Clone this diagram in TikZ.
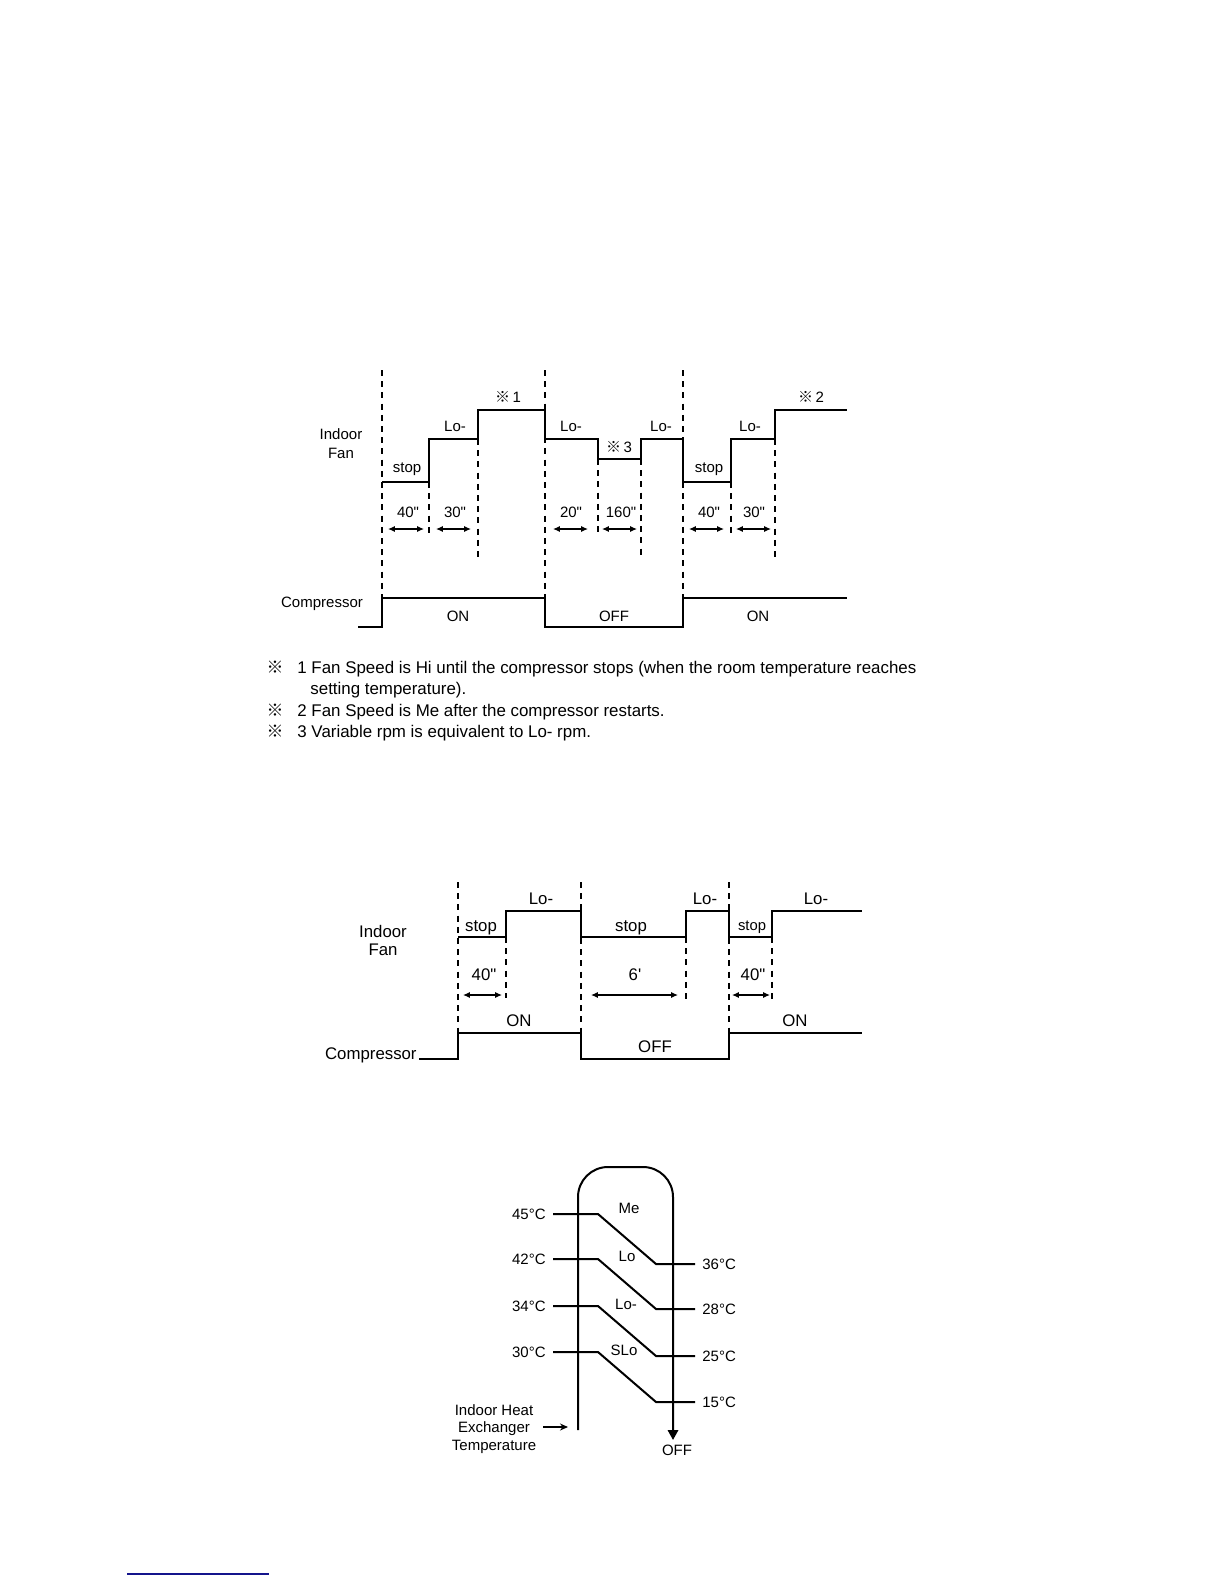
\documentclass[tikz,border=0pt]{standalone}
\usepackage{fontspec}
\usetikzlibrary{arrows.meta}
\newfontfamily\labfont{Liberation Sans}
\newfontfamily\cjkfont{Noto Sans CJK JP}
\newcommand\komemark{{\cjkfont ※}}
\definecolor{navyline}{RGB}{20,20,140}
\tikzset{
  wave/.style={line width=1.1pt, line join=miter},
  guide/.style={line width=0.6pt, dash pattern=on 3pt off 2.6pt},
  dur/.style={line width=0.6pt, {Latex[length=3.4pt,width=3pt]}-{Latex[length=3.4pt,width=3pt]}},
  lblA/.style={font=\labfont\fontsize{7.5}{9}\selectfont, inner sep=0pt, text height=5.4pt, text depth=0pt},
  lblB/.style={font=\labfont\fontsize{8.4}{10}\selectfont, inner sep=0pt, text height=6pt, text depth=0pt},
  lblBs/.style={font=\labfont\fontsize{7.4}{9}\selectfont, inner sep=0pt, text height=5.3pt, text depth=0pt},
  lblC/.style={font=\labfont\fontsize{7.5}{9}\selectfont, inner sep=0pt, text height=5.4pt, text depth=0pt},
  note/.style={font=\labfont\fontsize{8.45}{10}\selectfont, inner sep=0pt, anchor=base west},
  notemark/.style={font=\labfont\fontsize{8.45}{10}\selectfont, inner sep=0pt, anchor=base},
}
\begin{document}
\begin{tikzpicture}[x=0.5pt,y=-0.5pt]
\useasboundingbox (0,0) rectangle (1224,1584);

% ================= TOP DIAGRAM =================
\foreach \gx in {382,545,683}{
  \draw[guide] (\gx,370) -- (\gx,598);
}
\draw[guide] (429,482) -- (429,533);
\draw[guide] (478,439) -- (478,560);
\draw[guide] (598,459) -- (598,533);
\draw[guide] (641,459) -- (641,557);
\draw[guide] (731,482) -- (731,533);
\draw[guide] (775,439) -- (775,557);
\draw[wave] (382,482) -- (429,482) -- (429,439) -- (478,439) -- (478,410) -- (545,410)
  -- (545,439) -- (598,439) -- (598,459) -- (641,459) -- (641,439) -- (683,439)
  -- (683,482) -- (731,482) -- (731,439) -- (775,439) -- (775,410) -- (847,410);
\draw[wave] (358,627) -- (382,627) -- (382,598) -- (545,598) -- (545,627) -- (683,627)
  -- (683,598) -- (847,598);
\node[lblA] (t-in1) at (341,434) {Indoor};
\node[lblA] (t-in2) at (341,453) {Fan};
\node[lblA] (t-comp) at (322,602) {Compressor};
\node[lblA] (t-stop1) at (407,467) {stop};
\node[lblA] (t-lo1) at (455,426) {Lo-};
\node[lblA] (t-k1) at (508,397) {\komemark\,1};
\node[lblA] (t-lo2) at (571,426) {Lo-};
\node[lblA] (t-k3) at (619,447) {\komemark\,3};
\node[lblA] (t-lo3) at (661,426) {Lo-};
\node[lblA] (t-stop2) at (709,467) {stop};
\node[lblA] (t-lo4) at (750,426) {Lo-};
\node[lblA] (t-k2) at (811,397) {\komemark\,2};
\node[lblA] (t-d1) at (408,512) {40"};
\node[lblA] (t-d2) at (455,512) {30"};
\node[lblA] (t-d3) at (571,512) {20"};
\node[lblA] (t-d4) at (621,512) {160"};
\node[lblA] (t-d5) at (709,512) {40"};
\node[lblA] (t-d6) at (754,512) {30"};
\node[lblA] (t-on1) at (458,616) {ON};
\node[lblA] (t-off) at (614,616) {OFF};
\node[lblA] (t-on2) at (758,616) {ON};
\coordinate (ta1) at (388,529); \coordinate (tb1) at (424,529);
\coordinate (ta2) at (436,529); \coordinate (tb2) at (471,529);
\coordinate (ta3) at (553,529); \coordinate (tb3) at (588,529);
\coordinate (ta4) at (602,529); \coordinate (tb4) at (637,529);
\coordinate (ta5) at (689,529); \coordinate (tb5) at (724,529);
\coordinate (ta6) at (736,529); \coordinate (tb6) at (771,529);
\foreach \i in {1,...,6}{ \draw[dur] (ta\i) -- (tb\i); }

% ================= NOTES =================
\node[notemark] (n-k1) at (275,673) {\komemark};
\node[note] (n-1) at (297,673) {1 Fan Speed is Hi until the compressor stops (when the room temperature reaches};
\node[note] (n-1b) at (310,694) {setting temperature).};
\node[notemark] (n-k2) at (275,716) {\komemark};
\node[note] (n-2) at (297,716) {2 Fan Speed is Me after the compressor restarts.};
\node[notemark] (n-k3) at (275,737) {\komemark};
\node[note] (n-3) at (297,737) {3 Variable rpm is equivalent to Lo- rpm.};

% ================= MIDDLE DIAGRAM =================
\foreach \gx in {458,581,729}{
  \draw[guide] (\gx,882) -- (\gx,1033);
}
\draw[guide] (506,937) -- (506,998);
\draw[guide] (686,937) -- (686,1000);
\draw[guide] (772,937) -- (772,1000);
\draw[wave] (458,937) -- (506,937) -- (506,911) -- (581,911) -- (581,937) -- (686,937)
  -- (686,911) -- (729,911) -- (729,937) -- (772,937) -- (772,911) -- (862,911);
\draw[wave] (419,1059) -- (458,1059) -- (458,1033) -- (581,1033) -- (581,1059) -- (729,1059)
  -- (729,1033) -- (862,1033);
\node[lblB] (m-in1) at (383,931) {Indoor};
\node[lblB] (m-in2) at (383,949) {Fan};
\node[lblB,anchor=east] (m-comp) at (417,1053) {Compressor};
\node[lblB] (m-stop1) at (481,925) {stop};
\node[lblB] (m-lo1) at (541,898) {Lo-};
\node[lblB] (m-stop2) at (631,925) {stop};
\node[lblB] (m-lo2) at (705,898) {Lo-};
\node[lblBs] (m-stop3) at (752,925) {stop};
\node[lblB] (m-lo3) at (816,898) {Lo-};
\node[lblB] (m-d1) at (484,974) {40"};
\node[lblB] (m-d2) at (635,974) {6'};
\node[lblB] (m-d3) at (753,974) {40"};
\node[lblB] (m-on1) at (519,1020) {ON};
\node[lblB] (m-off) at (655,1046) {OFF};
\node[lblB] (m-on2) at (795,1020) {ON};
\coordinate (ma1) at (463,995); \coordinate (mb1) at (502,995);
\coordinate (ma2) at (591,995); \coordinate (mb2) at (678,995);
\coordinate (ma3) at (732,995); \coordinate (mb3) at (770,995);
\foreach \i in {1,2,3}{ \draw[dur] (ma\i) -- (mb\i); }

% ================= BOTTOM DIAGRAM =================
\draw[line width=1pt, rounded corners=15pt, -{Triangle[length=5pt,width=5.2pt]}]
  (578,1430) -- (578,1167) -- (673,1167) -- (673,1440);
\foreach \yl/\yr in {1214/1264,1259/1309,1306/1356,1352/1402}{
  \draw[line width=1pt] (553,\yl) -- (598,\yl) -- (656,\yr) -- (695,\yr);
}
\node[lblC,anchor=east] (b-45) at (546,1214) {45°C};
\node[lblC,anchor=east] (b-42) at (546,1259) {42°C};
\node[lblC,anchor=east] (b-34) at (546,1306) {34°C};
\node[lblC,anchor=east] (b-30) at (546,1352) {30°C};
\node[lblC,anchor=west] (b-36) at (702,1264) {36°C};
\node[lblC,anchor=west] (b-28) at (702,1309) {28°C};
\node[lblC,anchor=west] (b-25) at (702,1356) {25°C};
\node[lblC,anchor=west] (b-15) at (702,1402) {15°C};
\node[lblC] (b-me) at (629,1208) {Me};
\node[lblC] (b-lo) at (627,1256) {Lo};
\node[lblC] (b-lom) at (626,1304) {Lo-};
\node[lblC] (b-slo) at (624,1350) {SLo};
\node[lblC] (b-off) at (677,1450) {OFF};
\node[lblC] (b-t1) at (494,1410) {Indoor Heat};
\node[lblC] (b-t2) at (494,1427) {Exchanger};
\node[lblC] (b-t3) at (494,1445) {Temperature};
\coordinate (b-as) at (543,1427);
\coordinate (b-ae) at (568,1427);
\draw[line width=0.8pt, -{Stealth[length=4pt,width=3.5pt]}] (b-as) -- (b-ae);

% footer rule
\draw[navyline, line width=0.8pt] (127,1574) -- (269,1574);
\end{tikzpicture}
\end{document}
